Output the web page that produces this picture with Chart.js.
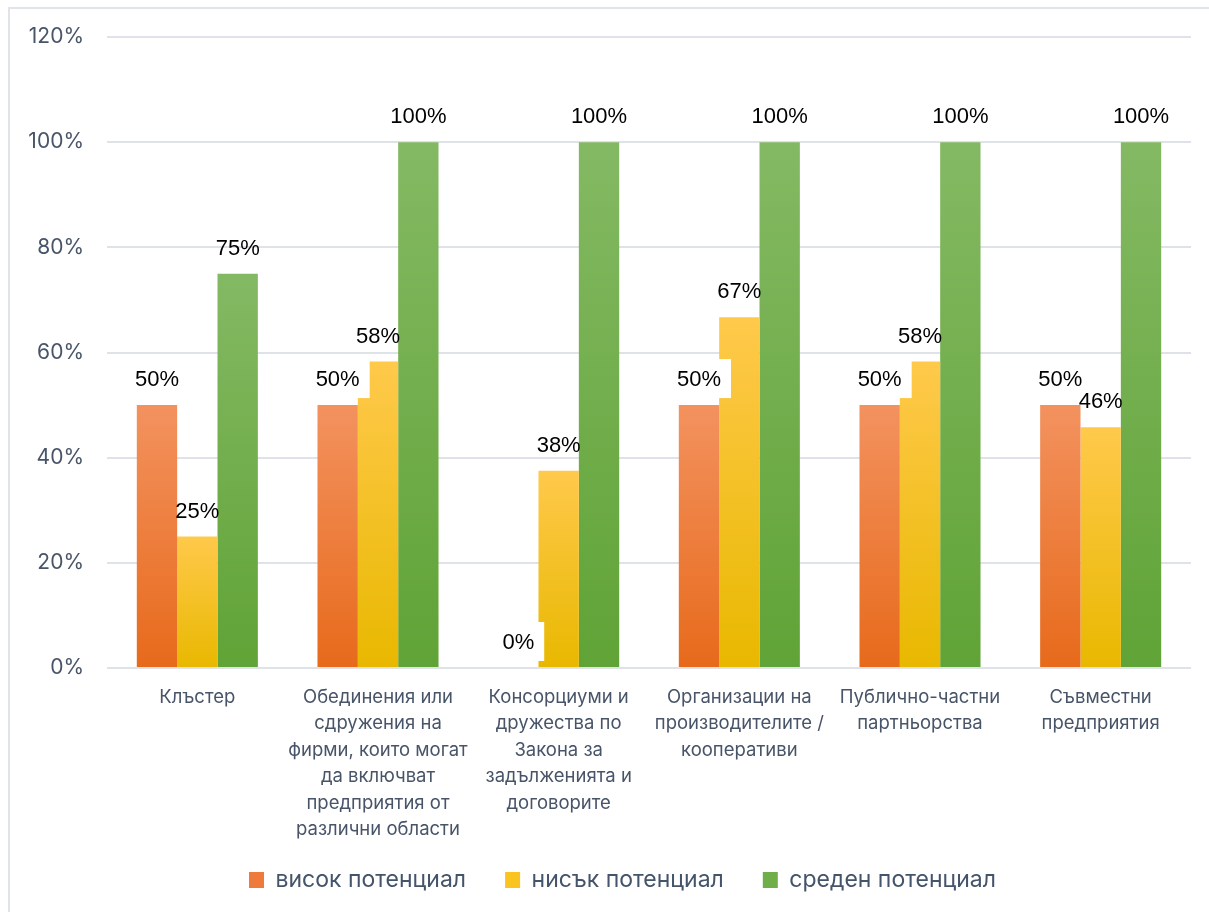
<!DOCTYPE html>
<html>
<head>
<meta charset="utf-8">
<script src="https://cdn.jsdelivr.net/npm/chart.js@4"></script>
<style>
  html, body { margin: 0; padding: 0; background: #fff; }
  #frame { position: absolute; left: 8px; top: 7px; width: 1300px; height: 1000px; border: 2px solid #e0e4ea; }
  #wrap { position: absolute; left: 0; top: 0; width: 1209px; height: 912px; }
</style>
</head>
<body>
<div id="frame"></div>
<div id="wrap"><canvas id="chart"></canvas></div>
<script>
const categories = [
  ['Клъстер'],
  ['Обединения или', 'сдружения на', 'фирми, които могат', 'да включват', 'предприятия от', 'различни области'],
  ['Консорциуми и', 'дружества по', 'Закона за', 'задълженията и', 'договорите'],
  ['Организации на', 'производителите /', 'кооперативи'],
  ['Публично-частни', 'партньорства'],
  ['Съвместни', 'предприятия']
];
const seriesNames = ['висок потенциал', 'нисък потенциал', 'среден потенциал'];
const highValues = [50, 50, 0, 50, 50, 50];
const lowValues = [25, 58.3, 37.5, 66.7, 58.3, 45.8];
const midValues = [75, 100, 100, 100, 100, 100];
const yTicks = [0, 20, 40, 60, 80, 100, 120];

const tops = ['#f3925f', '#ffc94b', '#84b963'];
const bottoms = ['#e76a1b', '#e8b800', '#60a336'];
const legendColors = ['#ee7b3b', '#fbc320', '#70ae48'];

const textColor = '#485468';

// vertical gradient per bar, from its top down to the zero line
const barGradient = (top, bottom) => ctx => {
  const chart = ctx.chart;
  const y = chart.scales.y;
  if (!y || ctx.type !== 'data' || !chart.chartArea) return bottom;
  const y0 = y.getPixelForValue(ctx.raw);
  const y1 = y.getPixelForValue(0);
  if (!isFinite(y0) || y1 - y0 < 1) return bottom;
  const g = chart.ctx.createLinearGradient(0, y0, 0, y1);
  g.addColorStop(0, top);
  g.addColorStop(1, bottom);
  return g;
};

const valueLabels = {
  id: 'valueLabels',
  afterDatasetsDraw(chart) {
    const c = chart.ctx;
    c.save();
    c.font = '22px "Liberation Sans", Arial, sans-serif';
    c.textAlign = 'center';
    c.textBaseline = 'middle';
    const items = [];
    chart.data.datasets.forEach((ds, di) => {
      chart.getDatasetMeta(di).data.forEach((bar, i) => {
        items.push({ di, x: bar.x, y: bar.y - 25, text: Math.round(ds.data[i]) + '%' });
      });
    });
    // only the first series has a white label background
    c.fillStyle = '#fff';
    items.filter(it => it.di === 0).forEach(it => {
      const w = c.measureText(it.text).width + 20;
      c.fillRect(it.x - w / 2, it.y - 21, w, 39);
    });
    c.fillStyle = '#000';
    items.forEach(it => c.fillText(it.text, it.x, it.y));
    c.restore();
  }
};

// legend sits a bit right of centre and tighter under the axis labels
const legendNudge = {
  id: 'legendNudge',
  afterLayout(chart) {
    const l = chart.legend;
    l.left += 21;
    l.right += 21;
    l.top -= 10.5;
    l.bottom -= 10.5;
  }
};

const values = [highValues, lowValues, midValues];

new Chart(document.getElementById('chart'), {
  type: 'bar',
  data: {
    labels: categories,
    datasets: seriesNames.map((name, i) => ({
      label: name,
      data: values[i],
      backgroundColor: barGradient(tops[i], bottoms[i]),
      borderWidth: 0,
      categoryPercentage: 0.67,
      barPercentage: 1.0
    }))
  },
  options: {
    responsive: true,
    maintainAspectRatio: false,
    animation: false,
    layout: { padding: { left: 12, right: 18, top: 37, bottom: 0 } },
    plugins: {
      tooltip: { enabled: false },
      legend: {
        position: 'bottom',
        labels: {
          color: '#44546a',
          font: { family: 'Inter', size: 23 },
          boxWidth: 15,
          boxHeight: 16,
          padding: 39,
          generateLabels: chart => Chart.defaults.plugins.legend.labels.generateLabels(chart).map(l => ({
            ...l,
            fillStyle: legendColors[l.datasetIndex],
            strokeStyle: legendColors[l.datasetIndex],
            lineWidth: 0
          }))
        }
      }
    },
    scales: {
      x: {
        grid: { display: false, drawTicks: false },
        border: { display: false },
        ticks: {
          color: textColor,
          font: { family: 'Inter', size: 18.5, lineHeight: 1.43 },
          padding: 16,
          maxRotation: 0,
          autoSkip: false
        },
        afterFit: s => { s.height = 172; }
      },
      y: {
        min: 0,
        max: 120,
        afterBuildTicks: s => { s.ticks = yTicks.map(v => ({ value: v })); },
        ticks: {
          color: textColor,
          font: { family: 'Inter', size: 21 },
          padding: 23,
          callback: v => v + '%'
        },
        grid: { color: '#dfe3e9', lineWidth: 2, drawTicks: false },
        border: { display: false },
        afterFit: s => { s.width = 95; }
      }
    }
  },
  plugins: [valueLabels, legendNudge]
});
</script>
</body>
</html>
